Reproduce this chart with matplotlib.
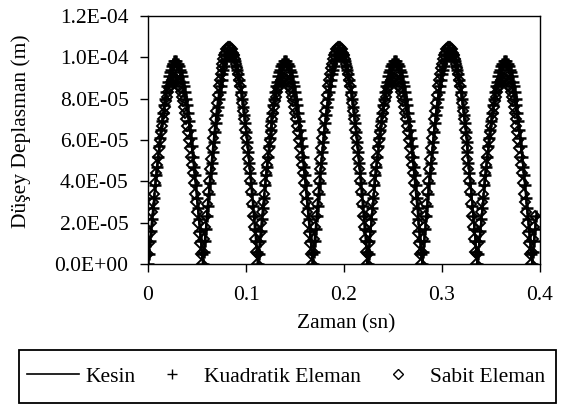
import numpy as np
import matplotlib
matplotlib.use('Agg')
import matplotlib.pyplot as plt
from matplotlib.lines import Line2D
from matplotlib.patches import Rectangle
from matplotlib.ticker import FuncFormatter

plt.rcParams['font.family'] = 'Liberation Serif'
plt.rcParams['font.size'] = 15.5

# dusey deplasman degerleri, mikrometre (1e-6 m), 0.001 sn aralikla
kesin = [
    0, 5, 11, 16, 21, 26, 31, 36, 41, 46, 51, 55, 59, 63, 67, 71, 74, 77, 80, 83, 86, 88, 90, 91, 93, 94, 94, 95, 95,
    95, 94, 94, 93, 91, 90, 88, 86, 83, 80, 77, 74, 71, 67, 63, 59, 55, 51, 46, 41, 36, 31, 26, 21, 16, 11, 5,
    0, 6, 12, 17, 23, 29, 34, 40, 45, 50, 55, 60, 65, 69, 74, 78, 81, 85, 88, 91, 94, 96, 98, 100, 101, 103, 103, 104, 104,
    104, 103, 103, 101, 100, 98, 96, 94, 91, 88, 85, 81, 78, 74, 69, 65, 60, 55, 50, 45, 40, 34, 29, 23, 17, 12, 6,
    0, 5, 11, 16, 21, 26, 31, 36, 41, 46, 51, 55, 59, 63, 67, 71, 74, 77, 80, 83, 86, 88, 90, 91, 93, 94, 94, 95, 95,
    95, 94, 94, 93, 91, 90, 88, 86, 83, 80, 77, 74, 71, 67, 63, 59, 55, 51, 46, 41, 36, 31, 26, 21, 16, 11, 5,
    0, 6, 12, 17, 23, 29, 34, 40, 45, 50, 55, 60, 65, 69, 74, 78, 81, 85, 88, 91, 94, 96, 98, 100, 101, 103, 103, 104, 104,
    104, 103, 103, 101, 100, 98, 96, 94, 91, 88, 85, 81, 78, 74, 69, 65, 60, 55, 50, 45, 40, 34, 29, 23, 17, 12, 6,
    0, 5, 11, 16, 21, 26, 31, 36, 41, 46, 51, 55, 59, 63, 67, 71, 74, 77, 80, 83, 86, 88, 90, 91, 93, 94, 94, 95, 95,
    95, 94, 94, 93, 91, 90, 88, 86, 83, 80, 77, 74, 71, 67, 63, 59, 55, 51, 46, 41, 36, 31, 26, 21, 16, 11, 5,
    0, 6, 12, 17, 23, 29, 34, 40, 45, 50, 55, 60, 65, 69, 74, 78, 81, 85, 88, 91, 94, 96, 98, 100, 101, 103, 103, 104, 104,
    104, 103, 103, 101, 100, 98, 96, 94, 91, 88, 85, 81, 78, 74, 69, 65, 60, 55, 50, 45, 40, 34, 29, 23, 17, 12, 6,
    0, 5, 11, 16, 21, 26, 31, 36, 41, 46, 51, 55, 59, 63, 67, 71, 74, 77, 80, 83, 86, 88, 90, 91, 93, 94, 94, 95, 95,
    95, 94, 94, 93, 91, 90, 88, 86, 83, 80, 77, 74, 71, 67, 63, 59, 55, 51, 46, 41, 36, 31, 26, 21, 16, 11, 5,
    0, 6, 12, 17, 23,
]

kuadratik = [
    0, 5, 11, 16, 22, 27, 32, 38, 43, 47, 52, 57, 61, 65, 69, 73, 77, 80, 83, 86, 88, 91, 93, 94, 96, 97, 97, 98, 98,
    98, 97, 97, 96, 94, 93, 91, 88, 86, 83, 80, 77, 73, 69, 65, 61, 57, 52, 47, 43, 38, 32, 27, 22, 16, 11, 5,
    0, 6, 11, 17, 23, 28, 34, 39, 44, 49, 54, 59, 64, 68, 72, 76, 80, 83, 86, 89, 92, 94, 96, 98, 99, 101, 101, 102, 102,
    102, 101, 101, 99, 98, 96, 94, 92, 89, 86, 83, 80, 76, 72, 68, 64, 59, 54, 49, 44, 39, 34, 28, 23, 17, 11, 6,
    0, 5, 11, 16, 22, 27, 32, 38, 43, 47, 52, 57, 61, 65, 69, 73, 77, 80, 83, 86, 88, 91, 93, 94, 96, 97, 97, 98, 98,
    98, 97, 97, 96, 94, 93, 91, 88, 86, 83, 80, 77, 73, 69, 65, 61, 57, 52, 47, 43, 38, 32, 27, 22, 16, 11, 5,
    0, 6, 11, 17, 23, 28, 34, 39, 44, 49, 54, 59, 64, 68, 72, 76, 80, 83, 86, 89, 92, 94, 96, 98, 99, 101, 101, 102, 102,
    102, 101, 101, 99, 98, 96, 94, 92, 89, 86, 83, 80, 76, 72, 68, 64, 59, 54, 49, 44, 39, 34, 28, 23, 17, 11, 6,
    0, 5, 11, 16, 22, 27, 32, 38, 43, 47, 52, 57, 61, 65, 69, 73, 77, 80, 83, 86, 88, 91, 93, 94, 96, 97, 97, 98, 98,
    98, 97, 97, 96, 94, 93, 91, 88, 86, 83, 80, 77, 73, 69, 65, 61, 57, 52, 47, 43, 38, 32, 27, 22, 16, 11, 5,
    0, 6, 11, 17, 23, 28, 34, 39, 44, 49, 54, 59, 64, 68, 72, 76, 80, 83, 86, 89, 92, 94, 96, 98, 99, 101, 101, 102, 102,
    102, 101, 101, 99, 98, 96, 94, 92, 89, 86, 83, 80, 76, 72, 68, 64, 59, 54, 49, 44, 39, 34, 28, 23, 17, 11, 6,
    0, 5, 11, 16, 22, 27, 32, 38, 43, 47, 52, 57, 61, 65, 69, 73, 77, 80, 83, 86, 88, 91, 93, 94, 96, 97, 97, 98, 98,
    98, 97, 97, 96, 94, 93, 91, 88, 86, 83, 80, 77, 73, 69, 65, 61, 57, 52, 47, 43, 38, 32, 27, 22, 16, 11, 5,
    0, 6, 11, 17, 23,
]

# sabit eleman bir adim once basliyor (ilk deger t = 0)
sabit = [
    5, 10, 15, 20, 25, 30, 34, 39, 44, 48, 52, 56, 60, 64, 67, 70, 73, 76, 79, 81, 83, 85, 86, 88, 89, 89, 90, 90,
    90, 89, 89, 88, 86, 85, 83, 81, 79, 76, 73, 70, 67, 64, 60, 56, 52, 48, 44, 39, 34, 30, 25, 20, 15, 10, 5,
    0, 6, 12, 18, 23, 29, 35, 40, 46, 51, 56, 61, 65, 70, 74, 78, 82, 86, 89, 92, 95, 97, 99, 101, 102, 104, 104, 105, 105,
    105, 104, 104, 102, 101, 99, 97, 95, 92, 89, 86, 82, 78, 74, 70, 65, 61, 56, 51, 46, 40, 35, 29, 23, 18, 12, 6,
    0, 5, 10, 15, 20, 25, 30, 34, 39, 44, 48, 52, 56, 60, 64, 67, 70, 73, 76, 79, 81, 83, 85, 86, 88, 89, 89, 90, 90,
    90, 89, 89, 88, 86, 85, 83, 81, 79, 76, 73, 70, 67, 64, 60, 56, 52, 48, 44, 39, 34, 30, 25, 20, 15, 10, 5,
    0, 6, 12, 18, 23, 29, 35, 40, 46, 51, 56, 61, 65, 70, 74, 78, 82, 86, 89, 92, 95, 97, 99, 101, 102, 104, 104, 105, 105,
    105, 104, 104, 102, 101, 99, 97, 95, 92, 89, 86, 82, 78, 74, 70, 65, 61, 56, 51, 46, 40, 35, 29, 23, 18, 12, 6,
    0, 5, 10, 15, 20, 25, 30, 34, 39, 44, 48, 52, 56, 60, 64, 67, 70, 73, 76, 79, 81, 83, 85, 86, 88, 89, 89, 90, 90,
    90, 89, 89, 88, 86, 85, 83, 81, 79, 76, 73, 70, 67, 64, 60, 56, 52, 48, 44, 39, 34, 30, 25, 20, 15, 10, 5,
    0, 6, 12, 18, 23, 29, 35, 40, 46, 51, 56, 61, 65, 70, 74, 78, 82, 86, 89, 92, 95, 97, 99, 101, 102, 104, 104, 105, 105,
    105, 104, 104, 102, 101, 99, 97, 95, 92, 89, 86, 82, 78, 74, 70, 65, 61, 56, 51, 46, 40, 35, 29, 23, 18, 12, 6,
    0, 5, 10, 15, 20, 25, 30, 34, 39, 44, 48, 52, 56, 60, 64, 67, 70, 73, 76, 79, 81, 83, 85, 86, 88, 89, 89, 90, 90,
    90, 89, 89, 88, 86, 85, 83, 81, 79, 76, 73, 70, 67, 64, 60, 56, 52, 48, 44, 39, 34, 30, 25, 20, 15, 10, 5,
    0, 6, 12, 18, 23,
]

zaman = np.round(np.arange(len(kesin)) * 0.001, 3)
zaman_sabit = np.round(np.arange(len(sabit)) * 0.001, 3)

x_ticks = [0, 0.1, 0.2, 0.3, 0.4]
x_tick_labels = ['0', '0.1', '0.2', '0.3', '0.4']
y_ticks = [0, 2e-5, 4e-5, 6e-5, 8e-5, 1e-4, 1.2e-4]

W, H = 561, 405
fig = plt.figure(figsize=(W / 100, H / 100), dpi=100)
ax = fig.add_axes([148 / W, 1 - 264 / H, 392 / W, 248 / H])

um = 1e-6
ax.plot(zaman, np.array(kesin) * um, color='black', lw=1.5)
ax.plot(zaman, np.array(kuadratik) * um, ls='none', marker='+', ms=9,
        mew=1.8, color='black')
ax.plot(zaman_sabit, np.array(sabit) * um, ls='none', marker='D', ms=4.6,
        mfc='none', mec='black', mew=1.4)

ax.set_xlim(0, 0.4)
ax.set_ylim(0, 1.2e-4)
ax.set_xticks(x_ticks)
ax.set_xticklabels(x_tick_labels)
ax.set_yticks(y_ticks)
ax.yaxis.set_major_formatter(FuncFormatter(lambda v, p: '{:.1E}'.format(v)))
ax.tick_params(direction='out', length=6, width=1.0, colors='black')
ax.tick_params(axis='x', pad=10)
ax.tick_params(axis='y', pad=8)
for s in ax.spines.values():
    s.set_linewidth(1.0)

fig.text(346 / W, 1 - 328 / H, 'Zaman (sn)', ha='center', va='baseline')
fig.text(21 / W, 1 - 131 / H, 'Düşey Deplasman (m)', rotation=90,
         ha='center', va='center')

# lejant
handles = [
    Line2D([], [], color='black', lw=1.2),
    Line2D([], [], ls='none', marker='+', ms=7, mew=1.0, color='black'),
    Line2D([], [], ls='none', marker='D', ms=5, mfc='none', mec='black', mew=1.0),
]
labels = ['Kesin', 'Kuadratik Eleman', 'Sabit Eleman']
fig.legend(handles, labels, ncol=3, loc='center left',
           bbox_to_anchor=(27 / W, 1 - 376.5 / H), frameon=False,
           borderpad=0, borderaxespad=0, handlelength=2.42,
           handletextpad=0.28, columnspacing=0.5)
fig.patches.append(Rectangle((19 / W, 1 - 403 / H), 537 / W, 53 / H,
                             transform=fig.transFigure, fill=False,
                             ec='black', lw=1.3))

fig.savefig('out.png', dpi=100)
